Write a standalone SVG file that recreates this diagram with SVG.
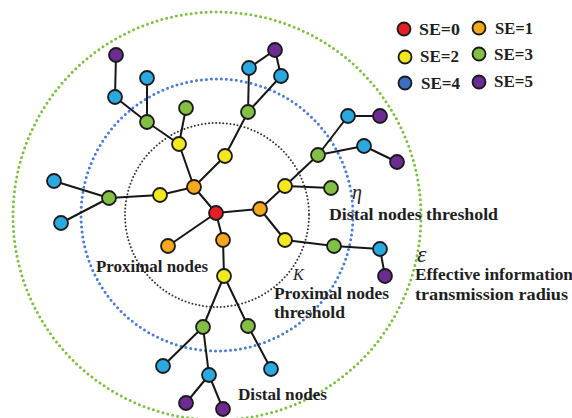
<svg xmlns="http://www.w3.org/2000/svg" width="572" height="418" viewBox="0 0 572 418">
  <style>
    .ring { fill: none; stroke-linecap: round; }
    .edge { stroke: #161616; stroke-width: 2; fill: none; }
    .node { stroke: #1a1a1a; stroke-width: 1.8; }
    .se0 { fill: #e61e25; }
    .se1 { fill: #f6a81c; }
    .se2 { fill: #f3e81c; }
    .se3 { fill: #82bf44; }
    .se4 { fill: #2aa9e0; }
    .se4k { fill: #3b6fc1; }
    .se5 { fill: #6a2c91; }
    .lbl { font-family: "Liberation Serif", "Times New Roman", serif; font-weight: bold; font-size: 17px; fill: #1e1e1e; }
    .sym { font-family: "Liberation Serif", "Times New Roman", serif; font-style: italic; fill: #1e1e1e; }
  </style>
  <rect width="572" height="418" fill="#ffffff"/>

  <!-- threshold rings around the source node -->
  <g id="rings">
    <circle class="ring" cx="217" cy="216" r="204" stroke="#7dbf45" stroke-width="3" stroke-dasharray="0 5"/>
    <circle class="ring" cx="217" cy="215" r="136" stroke="#4a7cd2" stroke-width="3" stroke-dasharray="0 5"/>
    <circle class="ring" cx="217" cy="215" r="92" stroke="#333333" stroke-width="2" stroke-dasharray="0 3.6"/>
  </g>

  <!-- links -->
  <g id="connectors">
    <path class="edge" d="M216 213L194 187M216 213L260 209M216 213L223 240M216 213L168 246"/>
    <path class="edge" d="M194 187L179 144M194 187L225 156M194 187L160 195"/>
    <path class="edge" d="M179 144L147 122M179 144L186 108M147 122L115 97M147 122L147 78M115 97L116 55"/>
    <path class="edge" d="M225 156L248 112M248 112L249 68M249 68L275 50M275 50L281 76M281 76L248 112"/>
    <path class="edge" d="M160 195L109 198M109 198L54 181M109 198L61 223"/>
    <path class="edge" d="M260 209L285 186M260 209L285 240"/>
    <path class="edge" d="M285 186L318 155M285 186L331 188M318 155L348 116M348 116L380 116M318 155L364 146M364 146L397 162"/>
    <path class="edge" d="M285 240L334 246M334 246L380 249M380 249L385 276"/>
    <path class="edge" d="M223 240L224 276M224 276L203 327M224 276L248 326"/>
    <path class="edge" d="M203 327L163 366M203 327L209 375M209 375L186 403M209 375L223 409M248 326L271 369"/>
  </g>

  <!-- SE = 0 -->
  <g id="n-root"><circle class="node se0" cx="216" cy="213" r="7"/></g>
  <!-- SE = 1 -->
  <g id="n-o1"><circle class="node se1" cx="194" cy="187" r="7"/></g>
  <g id="n-o2"><circle class="node se1" cx="260" cy="209" r="7"/></g>
  <g id="n-o3"><circle class="node se1" cx="223" cy="240" r="7"/></g>
  <g id="n-o4"><circle class="node se1" cx="168" cy="246" r="7"/></g>
  <!-- SE = 2 -->
  <g id="n-y1"><circle class="node se2" cx="179" cy="144" r="7"/></g>
  <g id="n-y2"><circle class="node se2" cx="225" cy="156" r="7"/></g>
  <g id="n-y3"><circle class="node se2" cx="160" cy="195" r="7"/></g>
  <g id="n-y4"><circle class="node se2" cx="285" cy="186" r="7"/></g>
  <g id="n-y5"><circle class="node se2" cx="285" cy="240" r="7"/></g>
  <g id="n-y6"><circle class="node se2" cx="224" cy="276" r="7"/></g>
  <!-- SE = 3 -->
  <g id="n-g1"><circle class="node se3" cx="147" cy="122" r="7"/></g>
  <g id="n-g2"><circle class="node se3" cx="186" cy="108" r="7"/></g>
  <g id="n-g3"><circle class="node se3" cx="248" cy="112" r="7"/></g>
  <g id="n-g4"><circle class="node se3" cx="109" cy="198" r="7"/></g>
  <g id="n-g5"><circle class="node se3" cx="318" cy="155" r="7"/></g>
  <g id="n-g6"><circle class="node se3" cx="331" cy="188" r="7"/></g>
  <g id="n-g7"><circle class="node se3" cx="334" cy="246" r="7"/></g>
  <g id="n-g8"><circle class="node se3" cx="203" cy="327" r="7"/></g>
  <g id="n-g9"><circle class="node se3" cx="248" cy="326" r="7"/></g>
  <!-- SE = 4 -->
  <g id="n-c1"><circle class="node se4" cx="115" cy="97" r="7"/></g>
  <g id="n-c2"><circle class="node se4" cx="147" cy="78" r="7"/></g>
  <g id="n-c3"><circle class="node se4" cx="249" cy="68" r="7"/></g>
  <g id="n-c4"><circle class="node se4" cx="281" cy="76" r="7"/></g>
  <g id="n-c5"><circle class="node se4" cx="54" cy="181" r="7"/></g>
  <g id="n-c6"><circle class="node se4" cx="61" cy="223" r="7"/></g>
  <g id="n-c7"><circle class="node se4" cx="348" cy="116" r="7"/></g>
  <g id="n-c8"><circle class="node se4" cx="364" cy="146" r="7"/></g>
  <g id="n-c9"><circle class="node se4" cx="380" cy="249" r="7"/></g>
  <g id="n-c10"><circle class="node se4" cx="163" cy="366" r="7"/></g>
  <g id="n-c11"><circle class="node se4" cx="209" cy="375" r="7"/></g>
  <g id="n-c12"><circle class="node se4" cx="271" cy="369" r="7"/></g>
  <!-- SE = 5 -->
  <g id="n-p1"><circle class="node se5" cx="116" cy="55" r="7"/></g>
  <g id="n-p2"><circle class="node se5" cx="275" cy="50" r="7"/></g>
  <g id="n-p3"><circle class="node se5" cx="380" cy="116" r="7"/></g>
  <g id="n-p4"><circle class="node se5" cx="397" cy="162" r="7"/></g>
  <g id="n-p5"><circle class="node se5" cx="385" cy="276" r="7"/></g>
  <g id="n-p6"><circle class="node se5" cx="186" cy="403" r="7"/></g>
  <g id="n-p7"><circle class="node se5" cx="223" cy="409" r="7"/></g>

  <!-- legend -->
  <g id="legend">
    <circle class="node se0" cx="404" cy="29" r="6.5"/>
    <text class="lbl" x="419" y="35" font-size="16" textLength="41" lengthAdjust="spacingAndGlyphs">SE=0</text>
    <circle class="node se1" cx="479" cy="28" r="6.5"/>
    <text class="lbl" x="495" y="34" font-size="16" textLength="38" lengthAdjust="spacingAndGlyphs">SE=1</text>
    <circle class="node se2" cx="405" cy="57" r="6.5"/>
    <text class="lbl" x="420" y="62" font-size="16" textLength="39" lengthAdjust="spacingAndGlyphs">SE=2</text>
    <circle class="node se3" cx="479" cy="54" r="6.5"/>
    <text class="lbl" x="494" y="60" font-size="16" textLength="39" lengthAdjust="spacingAndGlyphs">SE=3</text>
    <circle class="node se4k" cx="405" cy="83" r="6.5"/>
    <text class="lbl" x="421" y="89" font-size="16" textLength="39" lengthAdjust="spacingAndGlyphs">SE=4</text>
    <circle class="node se5" cx="479" cy="82" r="6.5"/>
    <text class="lbl" x="494" y="87" font-size="16" textLength="39" lengthAdjust="spacingAndGlyphs">SE=5</text>
  </g>

  <!-- ring and region labels -->
  <g id="labels">
    <text class="sym" x="352" y="199" font-size="20">η</text>
    <text class="lbl" x="329" y="220" textLength="169" lengthAdjust="spacingAndGlyphs">Distal nodes threshold</text>
    <text class="sym" x="417" y="262" font-size="24">ε</text>
    <text class="lbl" x="415" y="280" textLength="158" lengthAdjust="spacingAndGlyphs">Effective information</text>
    <text class="lbl" x="415" y="300" textLength="153" lengthAdjust="spacingAndGlyphs">transmission radius</text>
    <text class="sym" x="293" y="280" font-size="16">K</text>
    <text class="lbl" x="274" y="299" textLength="115" lengthAdjust="spacingAndGlyphs">Proximal nodes</text>
    <text class="lbl" x="274" y="318" textLength="71" lengthAdjust="spacingAndGlyphs">threshold</text>
    <text class="lbl" x="96" y="272" textLength="112" lengthAdjust="spacingAndGlyphs">Proximal nodes</text>
    <text class="lbl" x="238" y="400" textLength="89" lengthAdjust="spacingAndGlyphs">Distal nodes</text>
  </g>
</svg>
